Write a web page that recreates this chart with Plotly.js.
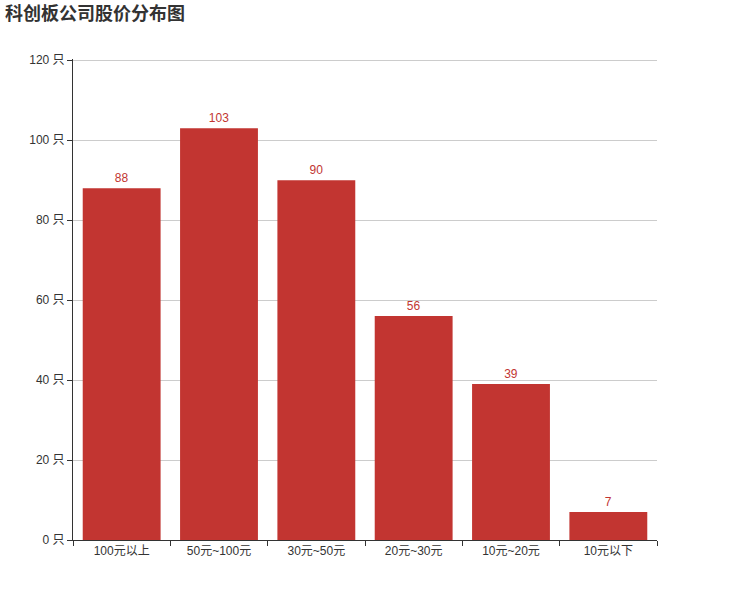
<!DOCTYPE html>
<html>
<head>
<meta charset="utf-8">
<script src="https://cdn.plot.ly/plotly-3.0.1.min.js"></script>
<style>
  html, body { margin: 0; padding: 0; background: #fff; }
</style>
</head>
<body>
<div id="myDiv" style="width:730px;height:600px;"></div>
<script>
graphDiv = 'myDiv'

// price ranges and number of companies in each
var priceRanges = ['100元以上', '50元~100元', '30元~50元', '20元~30元', '10元~20元', '10元以下']
var companyCounts = [88, 103, 90, 56, 39, 7]
var yTicks = [0, 20, 40, 60, 80, 100, 120]

var font = '"Liberation Sans", "Noto Sans CJK SC", sans-serif'

var bars = {
  x: priceRanges,
  y: companyCounts,
  type: 'bar',
  marker: { color: '#c23531' },
  text: companyCounts.map(String),
  textposition: 'outside',
  cliponaxis: false,
  textfont: { color: '#c23531', size: 12, family: font },
  hoverinfo: 'x+y'
}

// a touch of headroom above 120 so plotly keeps the top grid line
var layout = {
  width: 730,
  height: 600,
  margin: { l: 73, r: 73, t: 59, b: 60 },
  paper_bgcolor: '#fff',
  plot_bgcolor: '#fff',
  font: { family: font, size: 12, color: '#333' },
  showlegend: false,
  bargap: 0.2,
  title: {
    text: '<b>科创板公司股价分布图</b>',
    font: { size: 18, color: '#333', family: font },
    x: 5 / 730, xref: 'container', xanchor: 'left',
    y: 1 - 7 / 600, yref: 'container', yanchor: 'top'
  },
  xaxis: {
    type: 'category',
    showline: true,
    linecolor: '#333',
    linewidth: 1,
    ticks: 'outside',
    tickson: 'boundaries',
    ticklen: 5,
    tickcolor: '#333',
    showgrid: false,
    tickfont: { size: 12, color: '#333' }
  },
  yaxis: {
    range: [0, 120.3],
    tickvals: yTicks,
    ticktext: yTicks.map(function (v) { return v + ' 只' }),
    showline: true,
    linecolor: '#333',
    linewidth: 1,
    ticks: 'outside',
    ticklen: 5,
    tickcolor: '#333',
    showgrid: true,
    gridcolor: '#ccc',
    zeroline: false,
    tickfont: { size: 12, color: '#333' }
  }
}

Plotly.newPlot(graphDiv, [bars], layout, { displayModeBar: false });
</script>
</body>
</html>
